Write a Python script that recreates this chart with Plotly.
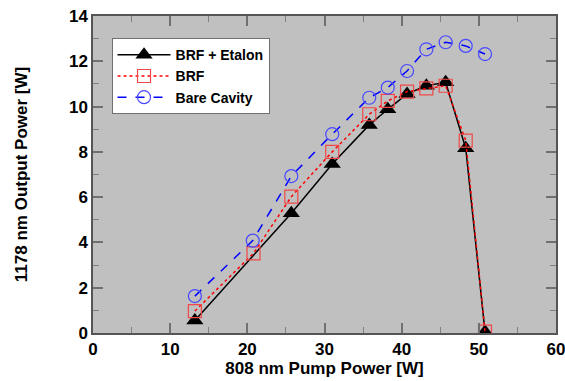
import plotly.graph_objects as go

# BRF + Etalon
x_etalon = [13.2, 25.7, 31.0, 35.8, 38.2, 40.7, 43.2, 45.7, 48.3, 50.8]
y_etalon = [0.55, 5.29, 7.46, 9.19, 9.88, 10.56, 10.92, 11.07, 8.16, 0.05]
# BRF
x_brf = [13.2, 20.8, 25.7, 31.0, 35.8, 38.2, 40.7, 43.2, 45.7, 48.3, 50.8]
y_brf = [0.97, 3.52, 6.02, 8.0, 9.66, 10.25, 10.66, 10.8, 10.92, 8.5, 0.06]
# Bare cavity
x_bare = [13.2, 20.7, 25.7, 31.0, 35.8, 38.2, 40.7, 43.2, 45.7, 48.3, 50.8]
y_bare = [1.63, 4.08, 6.93, 8.78, 10.39, 10.84, 11.57, 12.53, 12.84, 12.68, 12.32]

x_ticks = [0, 10, 20, 30, 40, 50, 60]
y_ticks = [0, 2, 4, 6, 8, 10, 12, 14]

FONT = "Liberation Sans, Arial, sans-serif"

fig = go.Figure()
fig.add_trace(go.Scatter(
    x=x_etalon, y=y_etalon, name="BRF + Etalon", mode="lines+markers",
    line=dict(color="black", width=1.5),
    marker=dict(symbol="triangle-up", size=15, color="black"),
))
fig.add_trace(go.Scatter(
    x=x_brf, y=y_brf, name="BRF", mode="lines+markers",
    line=dict(color="#ff0000", width=1.5, dash="dot"),
    marker=dict(symbol="square-open", size=13, color="#f04848", line=dict(width=1.2)),
))
fig.add_trace(go.Scatter(
    x=x_bare, y=y_bare, name="Bare Cavity", mode="lines+markers",
    line=dict(color="#0000ff", width=1.5, dash="dash"),
    marker=dict(symbol="circle-open", size=13, color="#4848ff", line=dict(width=1.2)),
))

axis_common = dict(
    showgrid=False, zeroline=False, mirror="ticks", showline=True,
    linecolor="#555555", linewidth=1.5, ticks="inside", ticklen=10,
    tickcolor="#707070", tickwidth=1.5, ticklabeloverflow="allow",
    tickfont=dict(family=FONT, size=17, color="black", weight="bold"),
)

fig.update_xaxes(
    range=[0, 60], tickvals=x_ticks,
    minor=dict(dtick=5, ticks="inside", ticklen=6, tickcolor="#808080", tickwidth=1),
    title=dict(text="808 nm Pump Power [W]", standoff=2,
               font=dict(family=FONT, size=17, color="black", weight="bold")),
    **axis_common,
)
fig.update_yaxes(
    range=[0, 14], tickvals=y_ticks,
    minor=dict(dtick=1, ticks="inside", ticklen=6, tickcolor="#808080", tickwidth=1),
    title=dict(text="1178 nm Output Power [W]", standoff=37,
               font=dict(family=FONT, size=17, color="black", weight="bold")),
    **axis_common,
)

fig.update_layout(
    width=565, height=381,
    margin=dict(l=93, r=9, t=16, b=48, autoexpand=False),
    paper_bgcolor="white", plot_bgcolor="#c0c0c0",
    showlegend=True,
    legend=dict(
        x=0.04, y=0.93, xanchor="left", yanchor="top",
        bgcolor="white", bordercolor="#707070", borderwidth=1,
        font=dict(family=FONT, size=14, color="black", weight="bold"),
        tracegroupgap=0, itemwidth=53,
    ),
)

fig.write_html(
    "out.html",
    config={"displayModeBar": False},
    post_script="document.body.style.margin='0';document.body.style.overflow='hidden';",
)
